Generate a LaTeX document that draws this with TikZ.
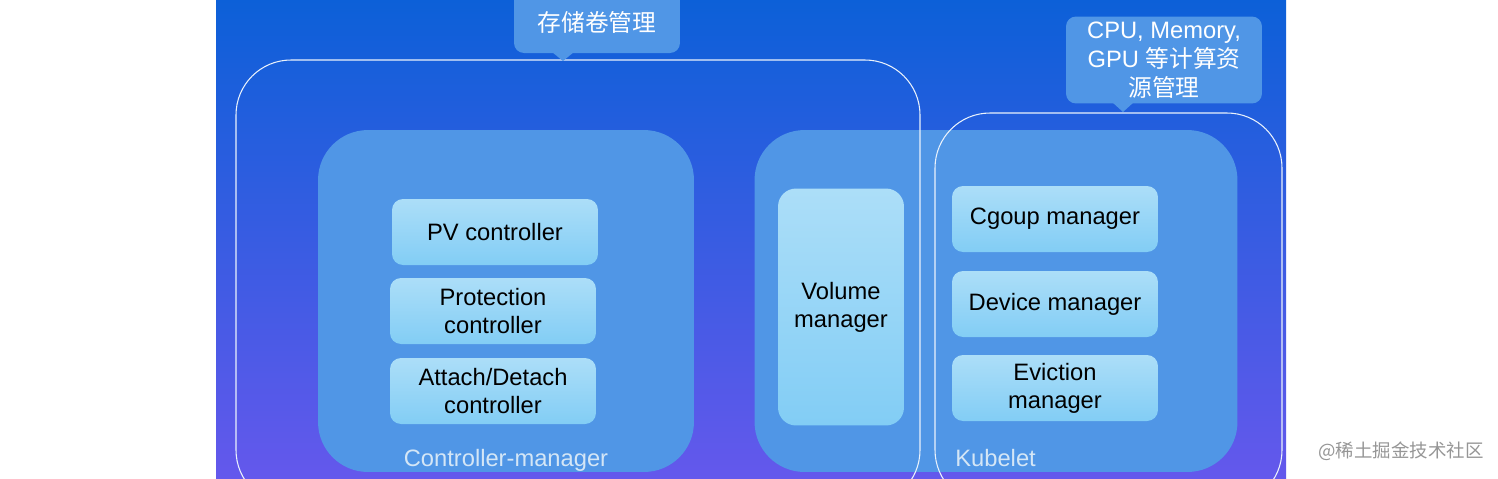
\documentclass[tikz,border=0pt]{standalone}
\usepackage{fontspec}
\setmainfont{Liberation Sans}
\newfontfamily\cjk{Noto Sans CJK SC}
\definecolor{bgtop}{RGB}{12,96,216}
\definecolor{bgmid}{RGB}{22,96,222}
\definecolor{bgbot}{RGB}{100,88,236}
\definecolor{panelblue}{RGB}{80,150,230}
\definecolor{cardtop}{RGB}{172,222,248}
\definecolor{cardbot}{RGB}{130,205,245}
\definecolor{paneltext}{RGB}{212,230,246}
\definecolor{markgray}{RGB}{150,150,150}

\begin{document}
\begin{tikzpicture}[x=0.02cm, y=-0.02cm,
  every node/.style={font=\fontsize{13.5}{16}\selectfont},
  panel/.style={rectangle, fill=panelblue, rounded corners=1cm, minimum height=6.84cm, inner sep=0pt},
  card/.style={rectangle, top color=cardtop, bottom color=cardbot, rounded corners=0.22cm, align=center, minimum width=4.12cm, minimum height=1.32cm, inner sep=0pt},
  tag/.style={rectangle, fill=panelblue, rounded corners=0.2cm, align=center, text=white, inner sep=0pt, font=\fontsize{13.5}{16.5}\selectfont},
  group/.style={draw=white!88!panelblue, line width=0.6pt, rounded corners=1.1cm},
  caption/.style={text=paneltext, inner sep=0pt, anchor=base}]
  \useasboundingbox (0,0) rectangle (1498,478);
  \fill[white] (0,0) rectangle (1498,478);
  \begin{scope}
    \clip (216,0) rectangle (1286,478);
    \shade[top color=bgtop, middle color=bgmid, bottom color=bgbot] (216,0) rectangle (1286,478);

    % panels
    \node[panel, minimum width=7.52cm] (cm) at (506,301) {};
    \node[panel, minimum width=9.66cm] (kl) at (996,301) {};
    \node[caption] (cmlabel) at (506,466) {Controller-manager};
    \node[caption, anchor=base west] (kllabel) at (955,466) {Kubelet};

    % controller-manager cards
    \node[card] (pv) at (495,232) {PV controller};
    \node[card] (prot) at (493,311) {Protection\\controller};
    \node[card] (ad) at (493,391) {Attach/Detach\\controller};

    % kubelet cards
    \node[card, minimum width=2.52cm, minimum height=4.74cm, rounded corners=0.36cm] (vol) at (841,307) {Volume\\manager};
    \node[card] (cg) at (1055,219) {Cgoup manager};
    \node[card] (dev) at (1055,304) {Device manager};
    \node[card] (ev) at (1055,388) {Eviction\\manager};

    % groups
    \draw[group] (236,60) rectangle (920,505);
    \draw[group] (935,113) rectangle (1282,505);

    % tags
    \node[tag, minimum width=3.32cm, minimum height=1.24cm] (storetag) at (597,22) {\cjk 存储卷管理};
    \coordinate (storetip) at (563,61);
    \fill[panelblue] (storetip) -- ++(-11,-9) -- ++(22,0) -- cycle;
    \node[tag, minimum width=3.92cm, minimum height=1.74cm] (restag) at (1164,60) {CPU, Memory,\\GPU {\cjk 等计算资}\\{\cjk 源管理}};
    \coordinate (restip) at (1123,112);
    \fill[panelblue] (restip) -- ++(-11,-10) -- ++(22,0) -- cycle;
  \end{scope}
  \node[text=markgray, font=\cjk\fontsize{10.5}{12}\selectfont] (mark) at (1401,451) {@稀土掘金技术社区};
\end{tikzpicture}
\end{document}
